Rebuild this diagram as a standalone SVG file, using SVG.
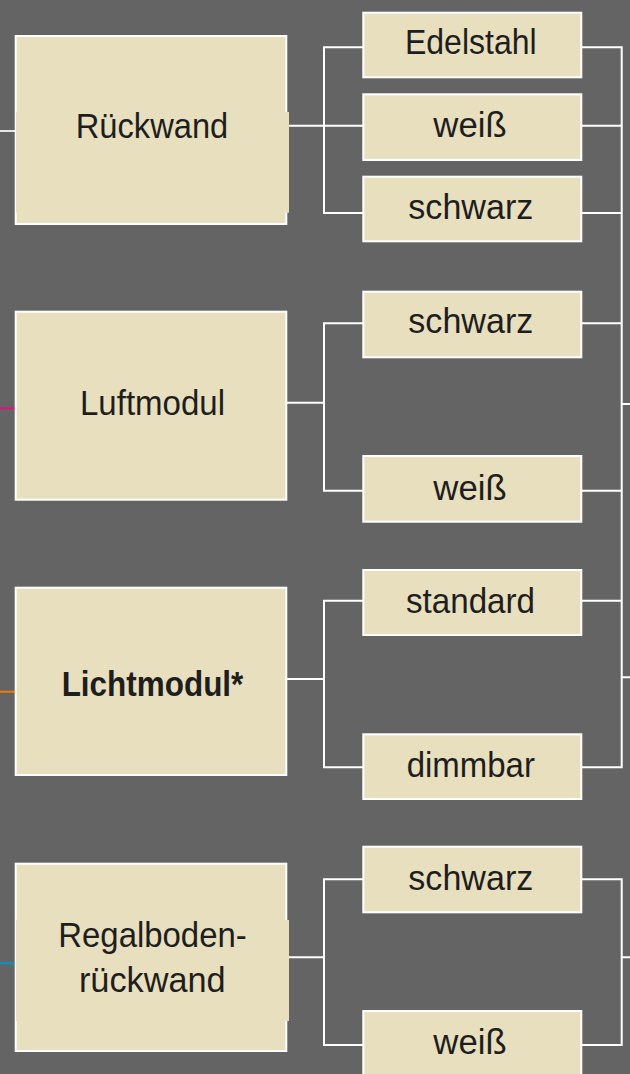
<svg xmlns="http://www.w3.org/2000/svg" width="630" height="1074" viewBox="0 0 630 1074">
<style>
.bg{fill:#646464}
.box{fill:#e8dfbf;stroke:#ffffff;stroke-width:2}
.ov{fill:#e8dfbf}
.t{font-family:"Liberation Sans",Arial,sans-serif;font-size:35px;fill:#1e1e1e;text-anchor:middle}
.b{font-weight:bold}
.ln{stroke:#ffffff;stroke-width:2;fill:none}
</style>
<rect class="bg" x="0" y="0" width="630" height="1074"/>
<g id="connectors">
<line x1="0" y1="131" x2="16" y2="131" stroke="#e6e6e6" stroke-width="2"/>
<line x1="0" y1="408.3" x2="15" y2="408.3" stroke="#e2117f" stroke-width="2"/>
<line x1="0" y1="691.7" x2="15" y2="691.7" stroke="#f07d00" stroke-width="2"/>
<line x1="0" y1="963.3" x2="15" y2="963.3" stroke="#0096d6" stroke-width="2"/>
<path class="ln" d="M289 125.7H324M363 47.3H324V213H363M324 125.7H363"/>
<path class="ln" d="M287 402.7H324M363 323.3H324V490.7H363"/>
<path class="ln" d="M287 679H324M363 600.7H324V767.3H363"/>
<path class="ln" d="M287 957.3H324M363 879.3H324V1045H363"/>
<path class="ln" d="M582 47.3H621.7M582 125.7H621.7M582 213H621.7M582 323.3H621.7M582 490.7H621.7M582 600.7H621.7M582 767.3H621.7M621.7 46.3V768.3M621.7 404H630M621.7 677.3H630"/>
<path class="ln" d="M582 879.3H621.7V1045H582M621.7 957.3H630"/>
</g>
<g id="rueckwand">
<rect class="box" x="15.7" y="36" width="270.6" height="188"/>
<rect class="ov" x="16" y="112" width="273" height="100.7"/>
<text class="t" x="152" y="137.7" textLength="152.6" lengthAdjust="spacingAndGlyphs">Rückwand</text>
</g>
<g id="luftmodul">
<rect class="box" x="15.7" y="311.7" width="270.6" height="188"/>
<text class="t" x="152.5" y="415" textLength="145" lengthAdjust="spacingAndGlyphs">Luftmodul</text>
</g>
<g id="lichtmodul">
<rect class="box" x="15.7" y="587.7" width="270.6" height="187.3"/>
<text class="t b" x="152.5" y="696" textLength="181.7" lengthAdjust="spacingAndGlyphs">Lichtmodul*</text>
</g>
<g id="regalboden">
<rect class="box" x="15.7" y="863.7" width="270.6" height="187.3"/>
<rect class="ov" x="16" y="920" width="273" height="101"/>
<text class="t" x="152.5" y="947.3" textLength="188.4" lengthAdjust="spacingAndGlyphs">Regalboden-</text>
<text class="t" x="152.3" y="991.7" textLength="146.7" lengthAdjust="spacingAndGlyphs">rückwand</text>
</g>
<g id="r-edelstahl">
<rect class="box" x="363.3" y="12.7" width="218" height="64.6"/>
<text class="t" x="470.8" y="54" textLength="131.7" lengthAdjust="spacingAndGlyphs">Edelstahl</text>
</g>
<g id="r-weiss">
<rect class="box" x="363.3" y="94.3" width="218" height="65.7"/>
<text class="t" x="470" y="137" textLength="73.3" lengthAdjust="spacingAndGlyphs">weiß</text>
</g>
<g id="r-schwarz">
<rect class="box" x="363.3" y="176.7" width="218" height="64.6"/>
<text class="t" x="470.8" y="219" textLength="125" lengthAdjust="spacingAndGlyphs">schwarz</text>
</g>
<g id="l-schwarz">
<rect class="box" x="363.3" y="291.7" width="218" height="65.6"/>
<text class="t" x="470.8" y="333" textLength="125" lengthAdjust="spacingAndGlyphs">schwarz</text>
</g>
<g id="l-weiss">
<rect class="box" x="363.3" y="456" width="218" height="65.7"/>
<text class="t" x="470" y="500" textLength="73.3" lengthAdjust="spacingAndGlyphs">weiß</text>
</g>
<g id="li-standard">
<rect class="box" x="363.3" y="570" width="218" height="65"/>
<text class="t" x="470.5" y="613" textLength="129" lengthAdjust="spacingAndGlyphs">standard</text>
</g>
<g id="li-dimmbar">
<rect class="box" x="363.3" y="734.3" width="218" height="64.7"/>
<text class="t" x="470.8" y="777" textLength="128.3" lengthAdjust="spacingAndGlyphs">dimmbar</text>
</g>
<g id="re-schwarz">
<rect class="box" x="363.3" y="846.7" width="218" height="65.6"/>
<text class="t" x="470.8" y="890" textLength="125" lengthAdjust="spacingAndGlyphs">schwarz</text>
</g>
<g id="re-weiss">
<rect class="box" x="363.3" y="1011" width="218" height="66"/>
<text class="t" x="470" y="1053.5" textLength="73.3" lengthAdjust="spacingAndGlyphs">weiß</text>
</g>
</svg>
